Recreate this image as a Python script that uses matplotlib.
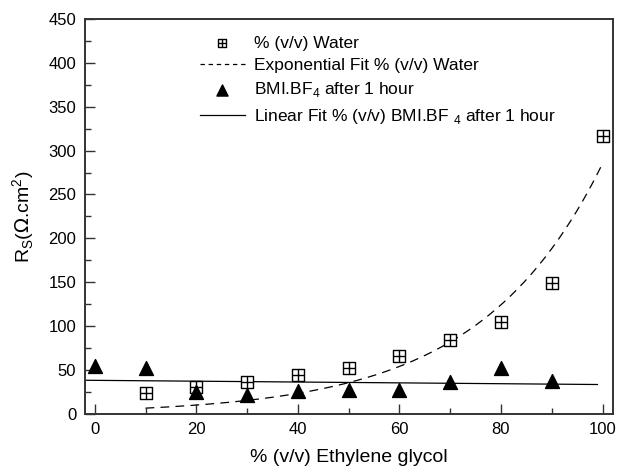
import numpy as np
import matplotlib
matplotlib.use("Agg")
import matplotlib.pyplot as plt
from matplotlib.lines import Line2D
from matplotlib.legend_handler import HandlerTuple

plt.rcParams['font.family'] = ['Liberation Sans', 'DejaVu Sans']

# dados
water_x = [10, 20, 30, 40, 50, 60, 70, 80, 90, 100]
water_rs = [24, 31, 37, 45, 52, 66, 84, 105, 149, 316]
bmi_x = [0, 10, 20, 30, 40, 50, 60, 70, 80, 90]
bmi_rs = [55, 53, 25, 22, 26, 27, 28, 36, 53, 38]
# parametros do ajuste exponencial: y = A*exp(x/t)
exp_A = 4.5
exp_t = 24.1

fig = plt.figure(figsize=(6.22, 4.69), dpi=100)
ax = fig.add_axes([0.136, 0.117, 0.849, 0.843])

# ajuste exponencial (agua)
xe = np.linspace(10, 100, 200)
ax.plot(xe, exp_A * np.exp(xe / exp_t), color='black', lw=0.9, dashes=(7, 5))
l_exp = Line2D([], [], color='black', lw=0.9, dashes=(3.5, 3))

# ajuste linear (BMI.BF4)
k, b = np.polyfit(bmi_x, bmi_rs, 1)
xl = np.array([-2, 99])
l_lin, = ax.plot(xl, k * xl + b, color='black', lw=0.9)

# agua: quadrado com cruz
sq = ax.scatter(water_x, water_rs, marker='s', s=65, facecolors='white',
                edgecolors='black', linewidths=1.0, zorder=3)
pl = ax.scatter(water_x, water_rs, marker='+', s=65, color='black',
                linewidths=1.0, zorder=4)
tri = ax.scatter(bmi_x, bmi_rs, marker='^', s=100, color='black', zorder=3)

ax.set_xlim(-2, 102)
ax.set_ylim(0, 450)
ax.set_xticks(range(0, 101, 20))
ax.set_xticks(range(0, 101, 10), minor=True)
ax.set_yticks(range(0, 451, 50))
ax.set_yticks(range(0, 451, 25), minor=True)
ax.tick_params(which='both', direction='in', top=False, right=False,
               labelsize=12, color='#333333', pad=6)
ax.tick_params(which='major', length=7, width=1)
ax.tick_params(which='minor', length=4, width=1)
for s in ax.spines.values():
    s.set_linewidth(1.4)
    s.set_color('#333333')

ax.set_xlabel('% (v/v) Ethylene glycol', fontsize=14, labelpad=8)
ax.set_ylabel(r'R$_\mathregular{S}$($\Omega$.cm$^\mathregular{2}$)',
              fontsize=14, labelpad=8)

leg = ax.legend([(sq, pl), l_exp, tri, l_lin],
                ['% (v/v) Water', 'Exponential Fit % (v/v) Water',
                 r'BMI.BF$_\mathregular{4}$ after 1 hour',
                 r'Linear Fit % (v/v) BMI.BF $_\mathregular{4}$ after 1 hour'],
                handler_map={tuple: HandlerTuple(ndivide=1, pad=0)},
                loc='upper left', bbox_to_anchor=(0.205, 0.975),
                borderaxespad=0, frameon=False, markerscale=0.8,
                fontsize=12.5, handlelength=2.6, handletextpad=0.5,
                labelspacing=0.42)

fig.savefig('out.png', dpi=100)
